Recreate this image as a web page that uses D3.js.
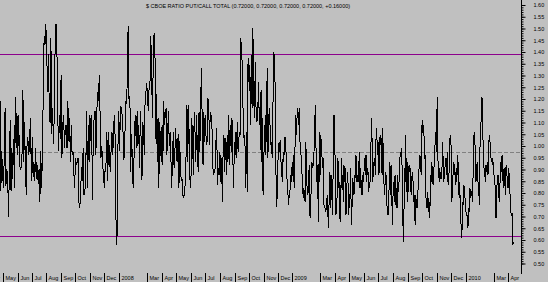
<!DOCTYPE html>
<html>
<head>
<meta charset="utf-8">
<script src="https://cdn.jsdelivr.net/npm/d3@7"></script>
<style>
  body { margin:0; background:#c0c0c0; }
  text { font-family:"Liberation Sans", Arial, sans-serif; }
</style>
</head>
<body>
<script>
// put/call ratio in four stretches
var partA = [1.20,0.81,0.98,0.89,0.82,0.95,1.16,0.83,0.90,0.88,0.70,0.88,1.11,0.81,0.99,0.86,1.03,0.82,1.21,0.99,1.14,0.96,1.13,0.93,0.90,0.91,0.97,1.24,0.93,1.10,0.89,0.79,1.04,1.02,0.96,1.04,1.12,0.85,1.04,0.87,0.93,0.85,0.99,0.86,0.92,0.84,0.90,0.76,0.98,0.82,0.96,1.23,1.47,1.43,1.52,1.42,1.23,1.39,1.18,1.10,1.46,1.05,1.16,1.01,1.13,1.44,1.52,1.44,1.15,0.98,1.13,1.03,1.30,0.95,1.09,1.13,0.99,1.08,1.09,0.99,1.19,1.02,1.12,0.93,1.09,0.96,0.98,0.89,0.82,0.95,0.92,0.93,0.95,0.76,0.735,0.79,0.91,0.85,0.99,0.79,0.81,0.85,1.15,0.82,1.09,0.93,1.13,1.02,1.13,0.77,1.06,1.12,1.15,0.96,1.13,1.23,1.19,1.30,1.13,0.95,1.00,0.92,0.88,0.82,0.91,0.93,1.06,0.85,1.06,0.95,0.89,0.99,1.06,0.96,1.09,1.13,0.99,0.58,0.62,0.99,1.15,0.98,1.17,1.16,1.13,1.06,0.94,0.99,1.19,1.18,1.27,1.51,1.20];
var partB = [1.21,0.89,1.05,0.95,0.82,0.93,1.09,1.13,0.99,1.15,1.00,1.09,0.905,1.15,1.02,0.855,1.10,1.06,0.96,1.22,1.23,1.27,1.19,1.15,1.26,1.27,1.47,1.32,1.12,1.345,1.47,1.48,1.03,1.22,0.93,1.12,0.82,1.10,1.02,0.93,1.09,0.92,1.19,1.09,1.13,1.16,0.96,1.06,1.15,1.00,1.06,0.95,0.82,0.95,1.06,0.905,0.98,1.075,0.95,0.93,1.05,0.82,1.02,0.89,0.85,0.86,0.79,0.78,0.806,0.85,0.976,1.174,0.933,1.174,0.99,0.82,0.862,1.118,1.018,0.877,1.146,1.06,0.933,1.132,0.962,0.891,1.146,0.976,1.174,1.33,1.089,0.919,1.146,1.018,1.132,1.004,1.018,1.203,1.189,1.004,1.146,1.132,1.103,0.919,0.877,0.891,0.905,1.018,1.075,0.834,0.905,0.877,0.976,0.848,0.947,0.763,0.99,1.047,0.891,1.033,0.877,1.047,0.933,1.132,0.919,1.089,0.976,1.118,0.962,0.82,1.018,0.962,1.06,0.947,1.103,0.976,1.06,1.047,1.458,1.387,1.345,1.089,1.033,1.047,0.82,1.06,0.806,1.373,1.274,1.345,1.089,1.387,1.16,1.50,1.203,1.118,1.359,1.146,1.103,1.132,1.274,1.089];
var partC = [1.132,1.231,0.933,1.238,0.877,0.791,0.919,1.089,0.962,1.132,1.018,1.33,0.947,1.033,1.16,1.132,1.004,1.018,0.976,0.947,1.245,1.40,1.373,1.245,0.933,0.742,0.784,0.919,0.99,1.018,0.976,1.026,0.905,0.877,0.848,0.976,0.933,1.033,1.04,1.004,0.891,0.848,0.806,0.749,0.791,0.791,0.877,0.848,0.905,0.933,0.848,0.962,0.82,1.061,1.132,1.047,1.146,1.16,1.089,1.16,1.018,1.004,0.947,0.891,0.848,0.777,0.82,0.777,0.763,1.018,0.877,0.806,0.791,0.848,0.919,0.706,0.692,0.848,0.933,0.905,0.919,0.962,1.047,1.174,1.018,0.848,0.919,0.791,0.678,1.061,0.848,1.047,1.018,0.962,0.905,0.947,0.749,0.742,0.735,0.721,0.763,0.791,0.706,0.65,0.806,0.891,0.735,0.791,0.877,0.706,0.962,1.132,1.118,0.848,0.706,0.763,0.791,0.947,0.82,0.848,0.692,0.678,0.947,0.82,0.877,0.763,0.919,0.848,0.905,0.706,0.777,0.891,0.848,0.706,0.763,0.791,0.905,0.664,0.735,0.862,0.834,0.791,0.877,0.862,0.962,0.848,0.877,0.848,0.891,0.976,0.82,0.905,0.806,0.791,0.877,0.848,0.891,0.947,0.877,0.962,0.848,0.905,0.891,0.806,0.834,0.848,0.919,1.118,1.033,0.848,0.891,0.933,0.947,0.877,1.033,1.075,0.962,1.018,0.877,0.891,1.047,1.004,1.033,0.877,1.075,0.933,0.834,0.791,0.891,0.877,0.763,0.721,0.706,0.763];
var partD = [0.933,0.791,0.919,0.82,0.664,0.791,0.848,0.763,0.877,0.749,0.82,0.735,0.877,0.806,0.848,0.947,0.962,0.976,0.99,0.82,0.65,0.593,0.905,0.848,1.047,0.806,0.933,0.763,0.862,0.919,0.891,0.905,0.791,0.862,0.891,0.848,0.763,0.791,0.664,0.791,0.749,0.735,0.806,0.82,0.919,0.962,0.947,0.877,1.075,1.11,1.047,1.089,0.947,0.962,0.791,0.749,0.735,0.806,0.721,0.763,0.692,0.877,0.848,0.933,0.862,0.834,0.891,0.962,1.018,1.061,0.976,1.208,0.962,0.862,0.905,0.848,0.891,0.862,0.877,1.018,0.933,0.848,0.891,0.919,0.947,0.877,0.976,0.848,0.834,0.905,1.033,1.047,0.99,0.763,0.848,0.891,0.933,0.877,0.891,0.834,0.905,0.877,0.962,0.791,0.848,0.777,0.791,0.607,0.621,0.763,0.749,0.834,0.806,0.763,0.721,0.706,0.706,0.65,0.735,0.721,0.82,0.777,0.806,0.791,0.763,0.933,1.047,1.061,0.962,0.848,0.905,0.933,0.848,0.834,0.749,0.99,1.068,1.132,1.21,1.103,0.962,0.905,0.891,0.848,0.919,0.891,0.933,0.877,1.004,1.047,1.018,0.962,0.933,0.947,0.919,0.933,0.877,0.848,0.82,0.692,0.82,0.848,0.877,0.791,0.763,0.848,0.933,0.891,0.962,0.877,0.82,0.905,0.862,0.791,0.919,0.891,0.848,0.82,0.905,0.862,0.791,0.721,0.706,0.713,0.579,0.593];
var partStart = ["2007-04-25","2008-01-24","2008-10-24","2009-07-25"];
var partEnd   = ["2008-01-22","2008-10-23","2009-07-23","2010-04-12"];

var upperBand = 1.39, lowerBand = 0.615, midLine = 0.976;
var yTicks = [1.60,1.55,1.50,1.45,1.40,1.35,1.30,1.25,1.20,1.15,1.10,1.05,1.00,0.95,0.90,0.85,0.80,0.75,0.70,0.65,0.60,0.55,0.50];
var monthTicks = ["2007-04","2007-05","2007-06","2007-07","2007-08","2007-09","2007-10","2007-11","2007-12",
  "2008-01","2008-03","2008-04","2008-05","2008-06","2008-07","2008-08","2008-09","2008-10","2008-11","2008-12",
  "2009-01","2009-03","2009-04","2009-05","2009-06","2009-07","2009-08","2009-09","2009-10","2009-11","2009-12",
  "2010-01","2010-03","2010-04"];
var title = "$ CBOE RATIO PUT/CALL TOTAL (0.72000, 0.72000, 0.72000, 0.72000, +0.16000)";

var svgWidth = 548, svgHeight = 282, axisX = 521;
var parseDay = d3.timeParse("%Y-%m-%d"), parseMonth = d3.timeParse("%Y-%m");

var svg = d3.select("body").append("svg")
    .attr("width", svgWidth).attr("height", svgHeight)
    .style("display","block");
svg.append("rect").attr("width", svgWidth).attr("height", svgHeight).attr("fill","#c0c0c0");

var x = d3.scaleTime()
    .domain([parseDay("2007-04-25"), parseDay("2010-04-28")])
    .range([0, axisX]);
var y = d3.scaleLinear().domain([0.50, 1.60]).range([263.5, 5]);

// spread each stretch's values evenly over its dates
var series = [];
[partA, partB, partC, partD].forEach(function(vals, k){
  var t0 = +parseDay(partStart[k]), t1 = +parseDay(partEnd[k]);
  vals.forEach(function(v, i){
    series.push({date: new Date(t0 + (t1 - t0) * i / (vals.length - 1)), value: v});
  });
});

// reference lines
[upperBand, lowerBand].forEach(function(v){
  svg.append("line")
    .attr("x1", 0).attr("x2", axisX)
    .attr("y1", Math.round(y(v)) + 0.5).attr("y2", Math.round(y(v)) + 0.5)
    .attr("stroke", "#8c008c").attr("stroke-width", 1);
});
svg.append("line")
  .attr("x1", 0).attr("x2", axisX)
  .attr("y1", Math.round(y(midLine)) + 0.5).attr("y2", Math.round(y(midLine)) + 0.5)
  .attr("stroke", "#808080").attr("stroke-dasharray", "4,2");

var line = d3.line()
  .x(function(d){ return x(d.date); })
  .y(function(d){ return y(d.value); });

svg.append("path")
  .datum(series)
  .attr("d", line)
  .attr("fill", "none")
  .attr("stroke", "#000")
  .attr("stroke-width", 1)
  .attr("shape-rendering", "crispEdges");

// right axis
var gy = svg.append("g").attr("transform", "translate(" + (axisX + 0.5) + ",0)");
gy.call(d3.axisRight(y).tickValues(d3.range(50, 161).map(function(d){ return d / 100; }))
    .tickSize(2).tickFormat(""));
gy.call(function(g){ g.select(".domain").remove(); });
var gy2 = svg.append("g").attr("transform", "translate(" + (axisX + 0.5) + ",0)");
gy2.call(d3.axisRight(y).tickValues(yTicks).tickSize(4).tickPadding(8)
    .tickFormat(d3.format(".2f")));
gy2.select(".domain").remove();
svg.selectAll(".tick text").attr("font-size", "5.5px").attr("font-family", "Liberation Sans, Arial").attr("fill", "#000");
svg.append("line")
  .attr("x1", axisX + 0.5).attr("x2", axisX + 0.5)
  .attr("y1", 0).attr("y2", 274)
  .attr("stroke", "#000");

// month strip along the bottom
var months = svg.append("g");
var mt = months.selectAll("g").data(monthTicks).enter().append("g")
  .attr("transform", function(d){ return "translate(" + Math.round(x(parseMonth(d))) + ",0)"; });
mt.append("line")
  .attr("x1", 0.5).attr("x2", 0.5).attr("y1", 273).attr("y2", 282)
  .attr("stroke", "#000");
mt.append("text")
  .attr("x", 2.5).attr("y", 279.5)
  .attr("font-size", "5.5px")
  .text(function(d){
    var dt = parseMonth(d);
    return dt.getMonth() == 0 ? d3.timeFormat("%Y")(dt) : d3.timeFormat("%b")(dt);
  });

svg.append("text")
  .attr("x", 248).attr("y", 8)
  .attr("text-anchor", "middle")
  .attr("font-size", "5.5px")
  .text(title);
</script>
</body>
</html>
